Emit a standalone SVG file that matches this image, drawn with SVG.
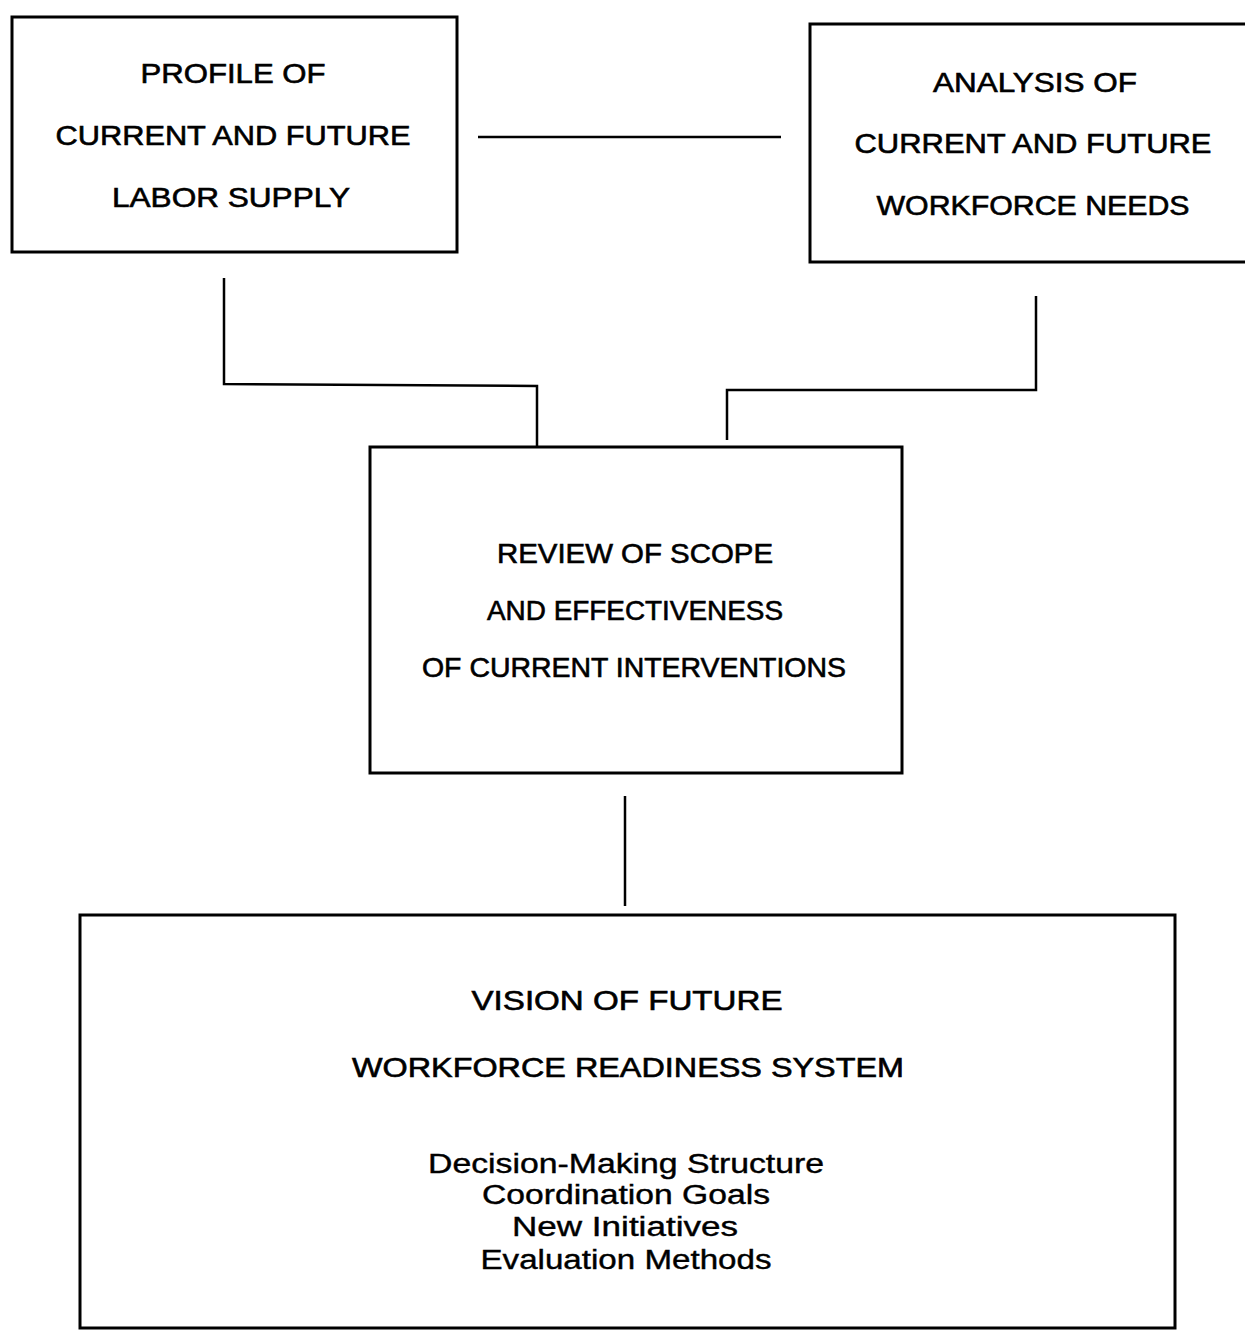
<svg xmlns="http://www.w3.org/2000/svg" width="1245" height="1340" viewBox="0 0 1245 1340">
<style>
.box{fill:#fff;stroke:#000;stroke-width:3}
.conn{fill:none;stroke:#000;stroke-width:2.5}
.t{font-family:"Liberation Sans",Arial,sans-serif;font-size:27px;fill:#000;stroke:#000;stroke-width:0.6;text-anchor:middle}
.s{font-family:"Liberation Sans",Arial,sans-serif;font-size:27px;fill:#000;stroke:#000;stroke-width:0.4;text-anchor:middle}
</style>
<rect width="1245" height="1340" fill="#fff"/>
<g id="connectors">
<line class="conn" x1="478" y1="137" x2="781" y2="137"/>
<polyline class="conn" points="224,278 224,384 537,386 537,446"/>
<polyline class="conn" points="1036,296 1036,390 727,390 727,440"/>
<line class="conn" x1="625" y1="796" x2="625" y2="906"/>
</g>
<g id="profile">
<rect class="box" x="12" y="17" width="445" height="235"/>
<text class="t" x="233" y="83" textLength="185" lengthAdjust="spacingAndGlyphs">PROFILE OF</text>
<text class="t" x="233" y="145" textLength="355" lengthAdjust="spacingAndGlyphs">CURRENT AND FUTURE</text>
<text class="t" x="231" y="207" textLength="238" lengthAdjust="spacingAndGlyphs">LABOR SUPPLY</text>
</g>
<g id="analysis">
<rect class="box" x="810" y="24" width="450" height="238"/>
<text class="t" x="1035" y="92" textLength="204" lengthAdjust="spacingAndGlyphs">ANALYSIS OF</text>
<text class="t" x="1033" y="153" textLength="357" lengthAdjust="spacingAndGlyphs">CURRENT AND FUTURE</text>
<text class="t" x="1033" y="215" textLength="313" lengthAdjust="spacingAndGlyphs">WORKFORCE NEEDS</text>
</g>
<g id="review">
<rect class="box" x="370" y="447" width="532" height="326"/>
<text class="t" x="635" y="563" textLength="276" lengthAdjust="spacingAndGlyphs">REVIEW OF SCOPE</text>
<text class="t" x="635" y="620" textLength="296" lengthAdjust="spacingAndGlyphs">AND EFFECTIVENESS</text>
<text class="t" x="634" y="677" textLength="424" lengthAdjust="spacingAndGlyphs">OF CURRENT INTERVENTIONS</text>
</g>
<g id="vision">
<rect class="box" x="80" y="915" width="1095" height="413"/>
<text class="t" x="627" y="1010" textLength="311" lengthAdjust="spacingAndGlyphs">VISION OF FUTURE</text>
<text class="t" x="628" y="1077" textLength="552" lengthAdjust="spacingAndGlyphs">WORKFORCE READINESS SYSTEM</text>
<text class="s" x="626" y="1173" textLength="396" lengthAdjust="spacingAndGlyphs">Decision-Making Structure</text>
<text class="s" x="626" y="1204" textLength="288" lengthAdjust="spacingAndGlyphs">Coordination Goals</text>
<text class="s" x="625" y="1236" textLength="226" lengthAdjust="spacingAndGlyphs">New Initiatives</text>
<text class="s" x="626" y="1269" textLength="291" lengthAdjust="spacingAndGlyphs">Evaluation Methods</text>
</g>
</svg>
